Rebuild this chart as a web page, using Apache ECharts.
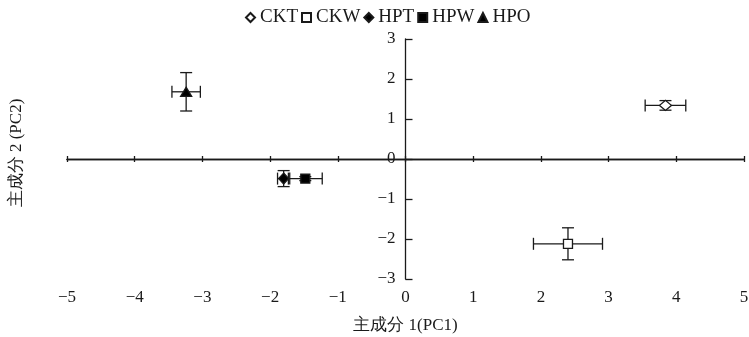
<!DOCTYPE html>
<html>
<head>
<meta charset="utf-8">
<script src="https://cdn.jsdelivr.net/npm/echarts@6/dist/echarts.min.js"></script>
<style>html,body{margin:0;padding:0;background:#fff}#c{width:749px;height:337px}</style>
</head>
<body>
<div id="c"></div>
<script>
var groups = ['CKT', 'CKW', 'HPT', 'HPW', 'HPO'];
var pc1 = [3.84, 2.40, -1.80, -1.48, -3.24];
var pc2 = [1.34, -2.12, -0.49, -0.49, 1.68];
var pc1Err = [0.30, 0.51, 0.09, 0.25, 0.21];
var pc2Err = [0.12, 0.40, 0.20, 0.05, 0.48];
var xTicks = [-5, -4, -3, -2, -1, 0, 1, 2, 3, 4, 5];
var yTicks = [-3, -2, -1, 0, 1, 2, 3];

var symbols = ['diamond', 'rect', 'diamond', 'rect', 'triangle'];
var symSizes = [[12, 10], 9, [10, 11], 9, [11, 9]];
var fills = ['#fff', '#fff', '#000', '#000', '#000'];
var FONT = '"Liberation Serif", "Times New Roman", serif';
var INK = '#1a1a1a';

function fmt(v) { return String(v).replace('-', '\u2212'); }

var chart = echarts.init(document.getElementById('c'));
var gridLeft = 67, gridRight = 5;
var plotW = 749 - gridLeft - gridRight;
var zeroOffset = -plotW * (0 - xTicks[0]) / (xTicks[xTicks.length - 1] - xTicks[0]);

var series = [];
series.push({
  type: 'custom',
  name: 'err',
  z: 1,
  data: groups.map(function (g, i) { return [pc1[i], pc2[i], pc1Err[i], pc2Err[i]]; }),
  renderItem: function (params, api) {
    var x = api.value(0), y = api.value(1), xe = api.value(2), ye = api.value(3);
    var l = api.coord([x - xe, y]), r = api.coord([x + xe, y]);
    var t = api.coord([x, y + ye]), b = api.coord([x, y - ye]);
    var cap = 6;
    var st = { stroke: INK, lineWidth: 1.3 };
    return {
      type: 'group',
      children: [
        { type: 'line', shape: { x1: l[0], y1: l[1], x2: r[0], y2: r[1] }, style: st },
        { type: 'line', shape: { x1: l[0], y1: l[1] - cap, x2: l[0], y2: l[1] + cap }, style: st },
        { type: 'line', shape: { x1: r[0], y1: r[1] - cap, x2: r[0], y2: r[1] + cap }, style: st },
        { type: 'line', shape: { x1: t[0], y1: t[1], x2: b[0], y2: b[1] }, style: st },
        { type: 'line', shape: { x1: t[0] - cap, y1: t[1], x2: t[0] + cap, y2: t[1] }, style: st },
        { type: 'line', shape: { x1: b[0] - cap, y1: b[1], x2: b[0] + cap, y2: b[1] }, style: st }
      ]
    };
  }
});
groups.forEach(function (g, i) {
  series.push({
    type: 'scatter',
    name: g,
    z: 5,
    symbol: symbols[i],
    symbolSize: symSizes[i],
    itemStyle: { color: fills[i], borderColor: INK, borderWidth: 1.3, opacity: 1 },
    data: [[pc1[i], pc2[i]]]
  });
});

chart.setOption({
  animation: false,
  backgroundColor: '#fff',
  textStyle: { fontFamily: FONT },
  legend: {
    data: groups,
    left: 240,
    top: 3,
    itemWidth: 9,
    itemHeight: 9,
    itemGap: 3,
    textStyle: { fontFamily: FONT, fontSize: 19, color: INK }
  },
  grid: { left: gridLeft, right: gridRight, top: 39, bottom: 58, containLabel: false, outerBoundsMode: 'none' },
  xAxis: [
    {
      type: 'value', min: -5, max: 5, interval: 1, position: 'bottom',
      axisLine: { show: false, onZero: false },
      axisTick: { show: false },
      splitLine: { show: false },
      axisLabel: { show: true, margin: 10, fontFamily: FONT, fontSize: 17, color: INK, formatter: fmt },
      name: '主成分 1(PC1)', nameLocation: 'middle', nameGap: 38,
      nameTextStyle: { fontFamily: FONT, fontSize: 17, color: INK }
    },
    {
      type: 'value', min: -5, max: 5, interval: 1, position: 'bottom',
      axisLine: { show: true, onZero: true, lineStyle: { color: INK, width: 1.3 } },
      axisTick: { show: true, inside: false, length: 3, lineStyle: { color: INK, width: 1.3 } },
      axisLabel: { show: false }, splitLine: { show: false }
    },
    {
      type: 'value', min: -5, max: 5, interval: 1, position: 'top',
      axisLine: { show: true, onZero: true, lineStyle: { color: INK, width: 1.3 } },
      axisTick: { show: true, inside: false, length: 3, lineStyle: { color: INK, width: 1.3 } },
      axisLabel: { show: false }, splitLine: { show: false }
    }
  ],
  yAxis: [
    {
      type: 'value', min: -3, max: 3, interval: 1, position: 'left', offset: zeroOffset,
      axisLine: { show: true, onZero: false, lineStyle: { color: INK, width: 1.3 } },
      axisTick: { show: true, inside: true, length: 7, lineStyle: { color: INK, width: 1.3 } },
      axisLabel: { show: true, margin: 10, fontFamily: FONT, fontSize: 17, color: INK, formatter: fmt },
      splitLine: { show: false }
    },
    {
      type: 'value', min: -3, max: 3, interval: 1, position: 'left',
      axisLine: { show: false, onZero: false }, axisTick: { show: false },
      axisLabel: { show: false }, splitLine: { show: false },
      name: '主成分 2 (PC2)', nameLocation: 'middle', nameGap: 42,
      nameTextStyle: { fontFamily: FONT, fontSize: 17, color: INK, padding: [0, 0, 0, 12] }
    }
  ],
  series: series
});
</script>
</body>
</html>
